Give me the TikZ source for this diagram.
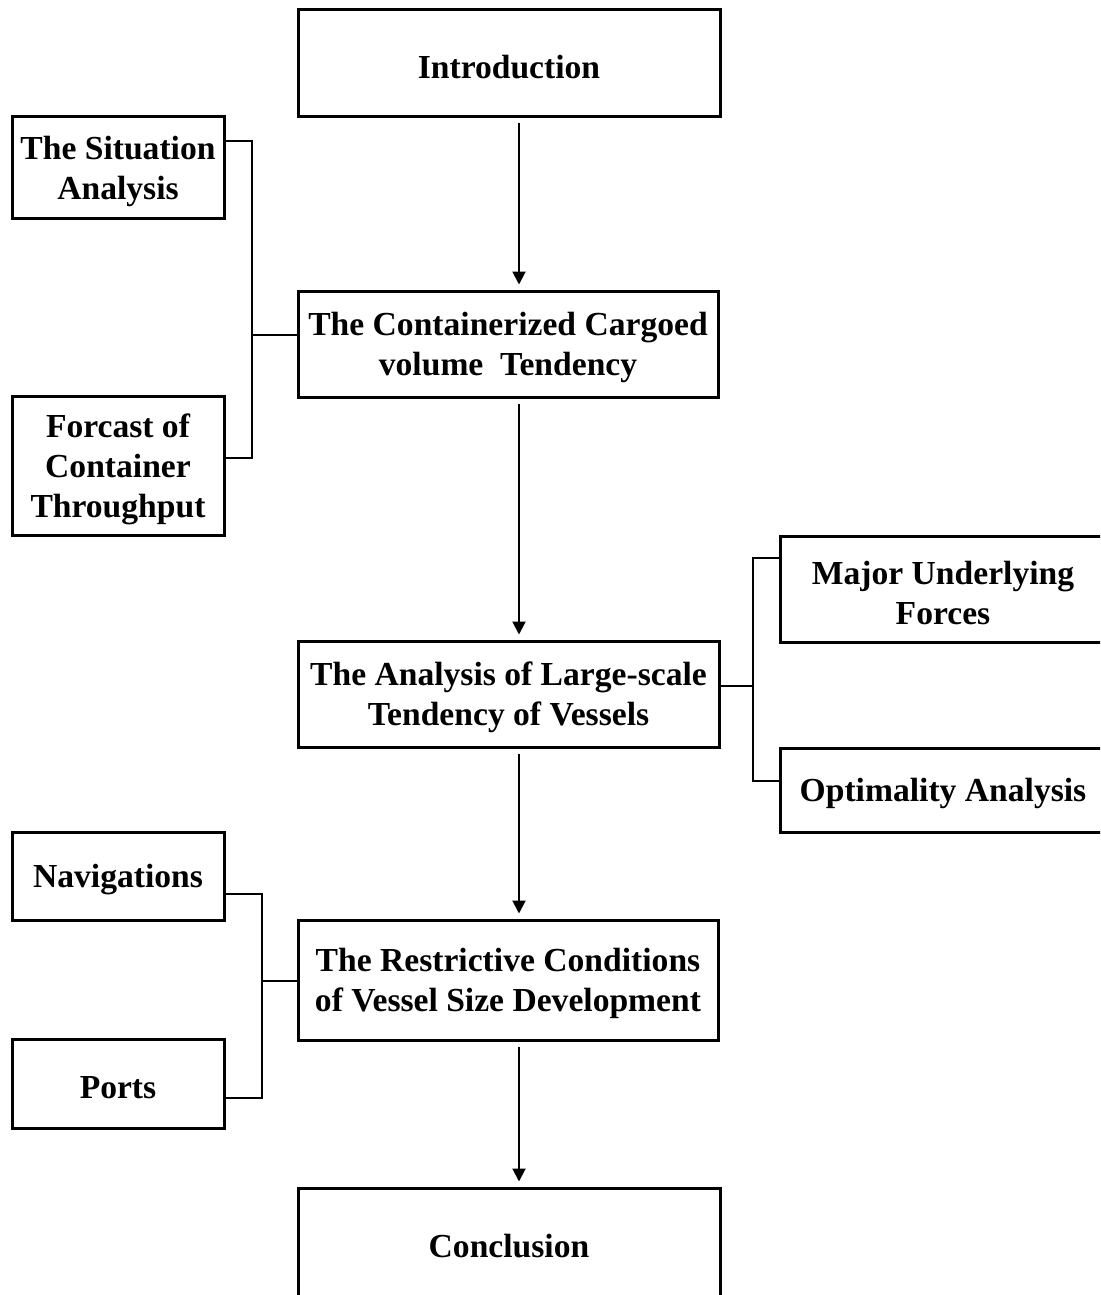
\documentclass[tikz,border=0pt]{standalone}
\usepackage{fontspec}
\setmainfont{Liberation Serif}
\usetikzlibrary{arrows.meta}
\newcommand\upstrut{\rule{0pt}{31pt}}
\begin{document}
\begin{tikzpicture}[x=1pt,y=-1pt,
  box/.style={draw,line width=3pt,align=center,inner sep=0pt,
    font=\bfseries\fontsize{33.6}{40}\selectfont},
  conn/.style={line width=1.5pt},
  arr/.style={line width=2pt,-{Triangle[width=13pt,length=13pt]},shorten >=5pt,shorten <=5pt}]
\clip (0,0) rectangle (1100,1295);
% main column
\node[box,minimum width=422,minimum height=107] (intro) at (509,63.5) {\upstrut Introduction};
\node[box,minimum width=420,minimum height=106] (cont) at (508,344) {\upstrut The Containerized Cargoed\\volume~ Tendency};
\node[box,minimum width=421,minimum height=106] (anal) at (508.5,694) {\upstrut The Analysis of Large-scale\\Tendency of Vessels};
\node[box,minimum width=420,minimum height=120] (restr) at (508,980) {\upstrut The Restrictive Conditions\\of Vessel Size Development};
\node[box,minimum width=422,minimum height=108] (concl) at (509,1242) {\upstrut Conclusion};
% left column
\node[box,minimum width=212,minimum height=101] (sit) at (118,167.5) {\upstrut The Situation\\Analysis};
\node[box,minimum width=212,minimum height=139] (forc) at (118,465.5) {\upstrut Forcast of\\Container\\Throughput};
\node[box,minimum width=212,minimum height=88] (nav) at (118,876) {\upstrut Navigations};
\node[box,minimum width=212,minimum height=89] (ports) at (118,1083.5) {\upstrut Ports};
% right column
\node[box,minimum width=326,minimum height=106] (major) at (943,589) {\upstrut Major Underlying\\Forces};
\node[box,minimum width=326,minimum height=84] (opt) at (943,790) {\upstrut Optimality Analysis};
% arrows
\coordinate (ax) at (519,0);
\draw[arr] (intro.south -| ax) -- (cont.north -| ax);
\draw[arr] (cont.south -| ax) -- (anal.north -| ax);
\draw[arr] (anal.south -| ax) -- (restr.north -| ax);
\draw[arr] (restr.south -| ax) -- (concl.north -| ax);
% left brackets
\coordinate (jL1) at (252,335);
\coordinate (s1) at (0,141);
\coordinate (f1) at (0,458);
\draw[conn] (sit.east |- s1) -- (jL1 |- s1) -- (jL1 |- f1) -- (forc.east |- f1);
\draw[conn] (jL1) -- (cont.west |- jL1);
\coordinate (jL2) at (262,981);
\coordinate (n1) at (0,894);
\coordinate (p1) at (0,1098);
\draw[conn] (nav.east |- n1) -- (jL2 |- n1) -- (jL2 |- p1) -- (ports.east |- p1);
\draw[conn] (jL2) -- (restr.west |- jL2);
% right bracket
\coordinate (jR) at (753,686);
\coordinate (m1) at (0,558);
\coordinate (o1) at (0,781);
\draw[conn] (anal.east |- jR) -- (jR);
\draw[conn] (major.west |- m1) -- (jR |- m1) -- (jR |- o1) -- (opt.west |- o1);
\end{tikzpicture}
\end{document}
